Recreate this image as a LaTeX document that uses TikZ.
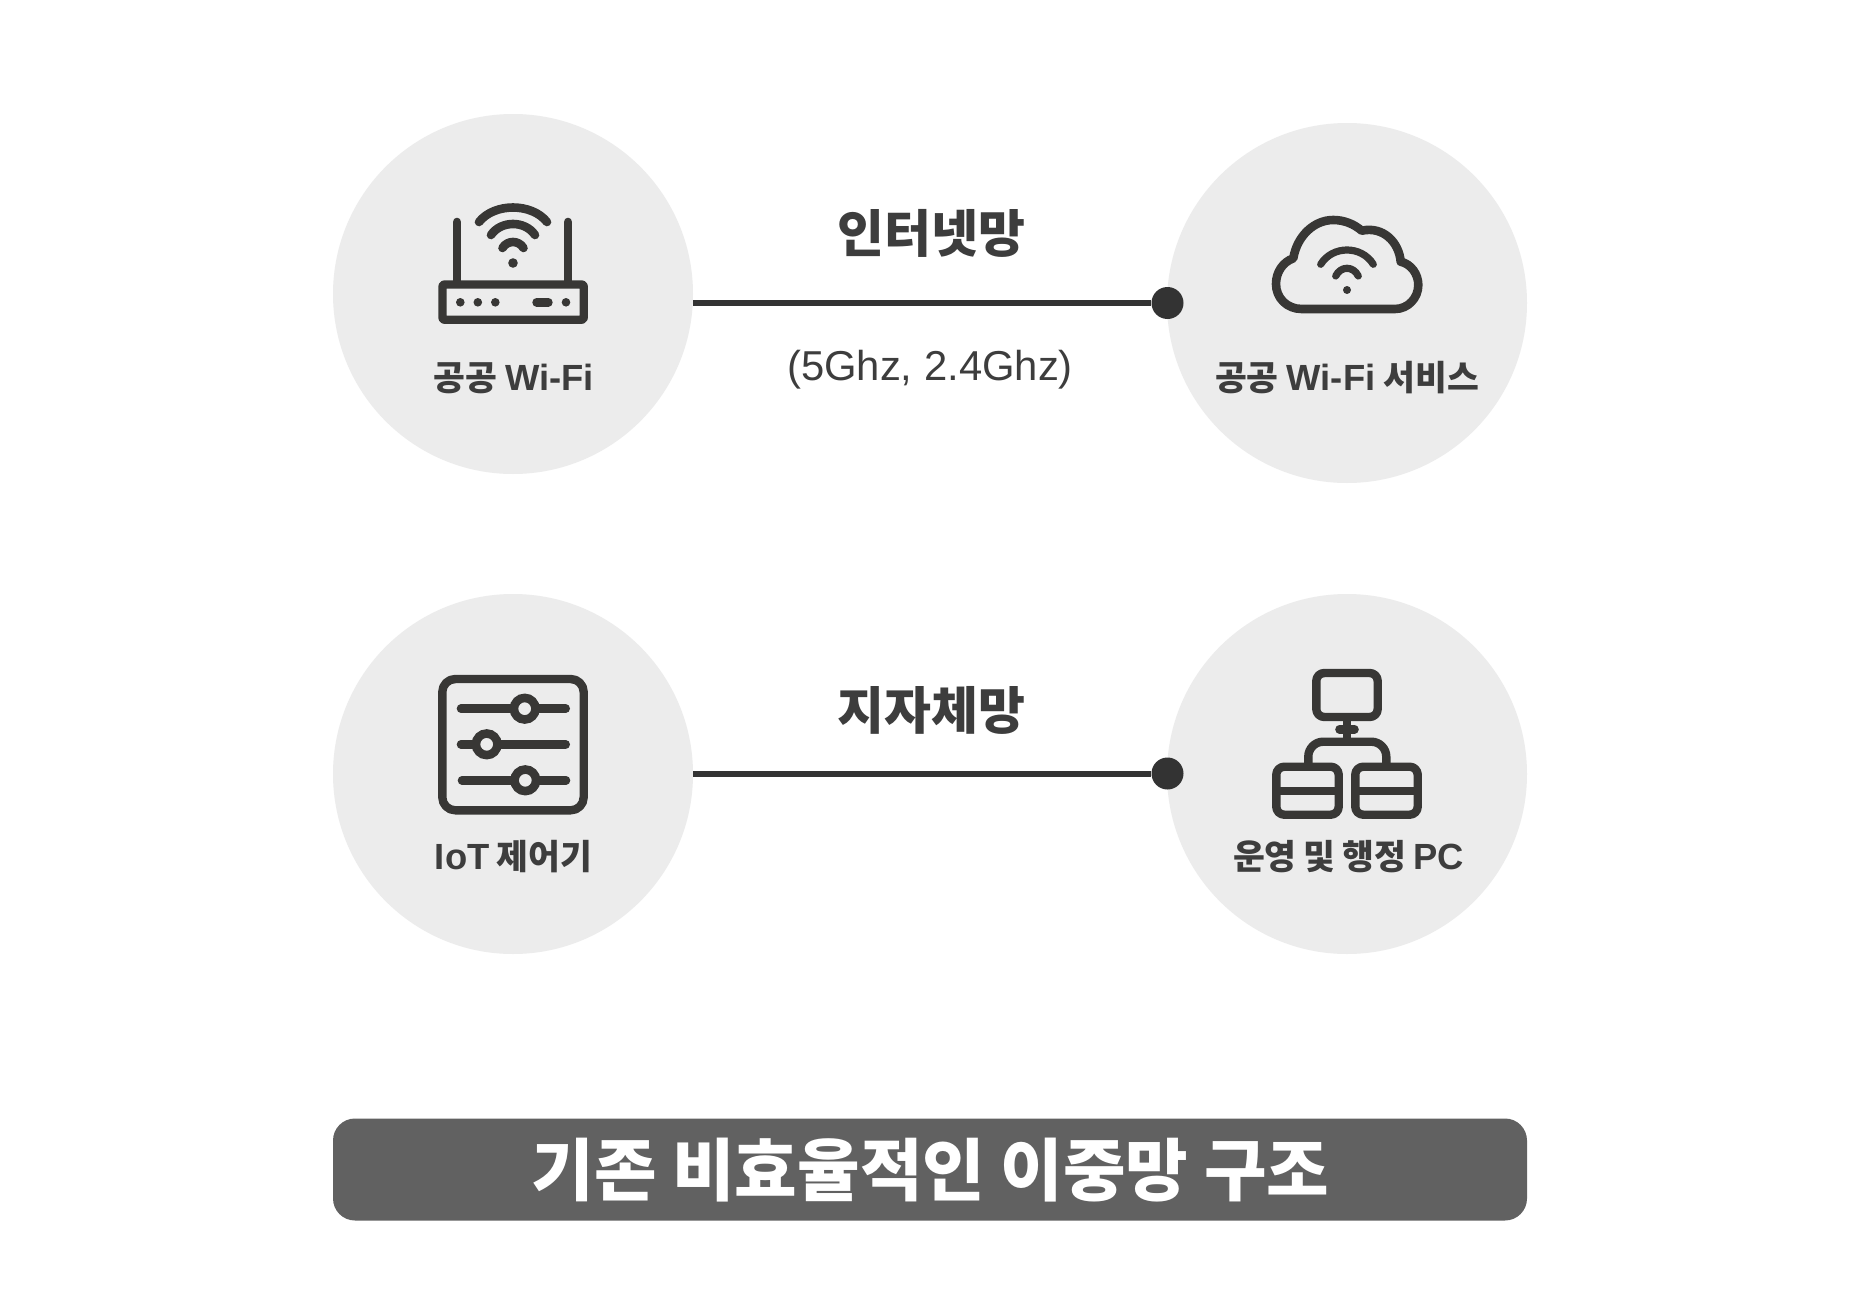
\documentclass[tikz,border=0pt]{standalone}
\usepackage{fontspec}
\newfontfamily\ko{Noto Sans CJK KR}
\newfontfamily\la{Liberation Sans}
\definecolor{ink}{HTML}{383735}
\definecolor{txt}{HTML}{3D3D3D}
\definecolor{disc}{HTML}{ECECEC}
\definecolor{barc}{HTML}{616161}
\definecolor{linec}{HTML}{333333}
\newcommand{\wifiarc}[4]{({#1-#3},#2) .. controls ({#1-#3*0.55},{#2-#4*1.3333}) and ({#1+#3*0.55},{#2-#4*1.3333}) .. ({#1+#3},#2)}
\newcommand{\hg}[1]{{\ko\fontsize{17.3pt}{18pt}\selectfont\bfseries #1}}
\newcommand{\lt}[1]{{\la\fontsize{18.2pt}{18pt}\selectfont\bfseries #1}}
\tikzset{
  disk/.style={circle,fill=disc,draw=none,minimum size=180pt,inner sep=0pt},
  pin/.style={circle,fill=linec,draw=none,minimum size=16pt,inner sep=0pt},
  wire/.style={draw=linec,line width=3pt},
  icon/.style={draw=ink,line width=4.3pt,line cap=round,line join=round},
  iconb/.style={draw=ink,line width=4.2pt,line join=round},
  knob/.style={draw=ink,line width=4.3pt,fill=disc},
  lab/.style={anchor=base,text=txt,inner sep=0pt},
  head/.style={anchor=base,text=txt,inner sep=0pt,font=\ko\fontsize{25.5pt}{25pt}\selectfont\bfseries},
  sub/.style={anchor=base,text=txt,inner sep=0pt,font=\la\fontsize{20.9pt}{21pt}\selectfont},
  bar/.style={fill=barc,draw=none,rounded corners=11pt,minimum width=597pt,minimum height=51pt,inner sep=0pt},
  bartxt/.style={anchor=base,text=white,inner sep=0pt,font=\ko\fontsize{34pt}{34pt}\selectfont\bfseries},
}
\begin{document}
\begin{tikzpicture}[x=0.5pt,y=-0.5pt]
\useasboundingbox (0,0) rectangle (1860,1290);
\fill[white] (0,0) rectangle (1860,1290);
% discs
\node[disk] (wifi) at (513,294) {};
\node[disk] (svc) at (1347,303) {};
\node[disk] (iot) at (513,774) {};
\node[disk] (pc) at (1347,774) {};
% connectors
\node[pin] (p1) at (1167.5,303) {};
\node[pin] (p2) at (1167.5,773.5) {};
\draw[wire] (wifi.east |- p1) -- (p1);
\draw[wire] (iot.east |- p2) -- (p2);
% labels
\node[lab] (l1) at (513.5,390) {\hg{공공}\hspace{4pt}\lt{Wi-Fi}};
\node[lab] (l2) at (1347,390) {\hg{공공}\hspace{4pt}\lt{Wi-Fi}\hspace{4pt}\hg{서비스}};
\node[lab] (l3) at (513.5,869) {\lt{IoT}\hspace{3.5pt}\hg{제어기}};
\node[lab] (l4) at (1348.5,869) {\hg{운영\hspace{3.5pt}및\hspace{3.5pt}행정}\hspace{3.5pt}\lt{PC}};
\node[head] (h1) at (931.5,252) {인터넷망};
\node[sub] (h2) at (930,380) {(5Ghz, 2.4Ghz)};
\node[head] (h3) at (931.5,729) {지자체망};
% bar
\node[bar] (b) at (930,1169.5) {};
\node[bartxt] (bt) at (930.5,1195) {기존 비효율적인 이중망 구조};
% router
\draw[iconb,rounded corners=1pt] (442.5,284.5) rectangle (583.7,319.7);
\draw[icon] (457,222) -- (457,282);
\draw[icon] (568,222) -- (568,282);
\fill[ink] (513,263) circle[radius=4.8];
\draw[icon] \wifiarc{513}{248}{10.5}{6};
\draw[icon] \wifiarc{513}{235}{22}{11};
\draw[icon] \wifiarc{513}{222}{34}{14.5};
\foreach \x in {460.3,477.8,495.3,566} \fill[ink] (\x,302.3) circle[radius=4.3];
\draw[draw=ink,line width=4.3pt,line cap=round] (536.6,302.3) -- (548.4,302.3);
% cloud
\draw[icon] (1301.7,309) .. controls (1287,309) and (1276,298) .. (1276,284) .. controls (1276,272) and (1283,262) .. (1293.3,258.3) .. controls (1297,236) and (1314,220) .. (1333.3,220) .. controls (1344,220) and (1354,224) .. (1361.7,230.7) .. controls (1383,226) and (1399,242) .. (1400.7,261.7) .. controls (1411,264) and (1418.3,274) .. (1418.3,285) .. controls (1418.3,298) and (1408,309) .. (1395,309) -- cycle;
\fill[ink] (1347,290) circle[radius=4];
\draw[draw=ink,line width=3.6pt,line cap=round] \wifiarc{1347}{276}{11.3}{7.7};
\draw[draw=ink,line width=3.6pt,line cap=round] \wifiarc{1347}{264.3}{26.3}{14.3};
% sliders
\draw[iconb,rounded corners=6.5pt] (442.3,679) rectangle (583.7,810.3);
\draw[icon] (461,708.7) -- (565.7,708.7);
\draw[icon] (461,744.3) -- (565.7,744.3);
\draw[icon] (462,780.3) -- (566,780.3);
\draw[knob] (524.7,708.7) circle[radius=10.8];
\draw[knob] (486.7,744.3) circle[radius=10.8];
\draw[knob] (525.3,780.3) circle[radius=10.8];
% network
\draw[iconb,rounded corners=4pt] (1316.3,673) rectangle (1377.7,717);
\draw[iconb] (1347,720) -- (1347,742);
\draw[draw=ink,line width=4.3pt,line cap=round] (1339.5,729.3) -- (1354.5,729.3);
\draw[iconb,rounded corners=7.5pt] (1308.3,764) -- (1308.3,741.7) -- (1386.3,741.7) -- (1386.3,764);
\draw[iconb,rounded corners=4pt] (1276.3,766.7) rectangle (1338.7,814.7);
\draw[iconb,rounded corners=4pt] (1355.3,766.7) rectangle (1417.7,814.7);
\draw[iconb] (1276.3,791) -- (1338.7,791);
\draw[iconb] (1355.3,791) -- (1417.7,791);
\end{tikzpicture}
\end{document}
